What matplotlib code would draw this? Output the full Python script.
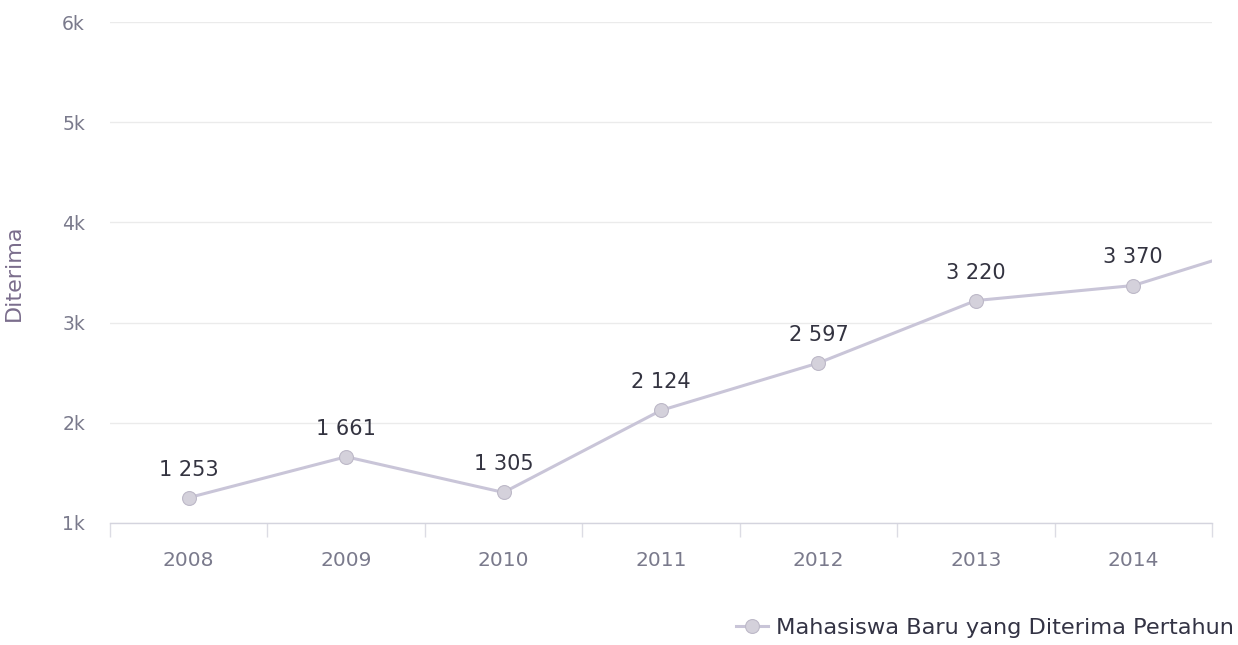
import matplotlib
matplotlib.use("Agg")
import matplotlib.pyplot as plt
from matplotlib.ticker import FixedLocator, FuncFormatter

# data (the last point lies past the right edge, only its line shows)
years = ["2008", "2009", "2010", "2011", "2012", "2013", "2014", "2015"]
diterima = [1253, 1661, 1305, 2124, 2597, 3220, 3370, 3860]
n_visible = 7
series_name = "Mahasiswa Baru yang Diterima Pertahun"

W, H = 1238, 645
fig = plt.figure(figsize=(W / 100, H / 100), dpi=100)
ax = fig.add_axes([110 / W, (H - 523) / H, (1212 - 110) / W, (523 - 22) / H])

line_color = "#c9c5d8"
marker_color = "#d4d1db"
label_gray = "#7a7a8c"

x = list(range(len(years)))
ax.plot(x, diterima, color=line_color, linewidth=2.2, marker="o", markersize=10,
        markerfacecolor=marker_color, markeredgecolor="#bdb9c8", markeredgewidth=0.8,
        zorder=3, label=series_name)

for i in range(n_visible):
    txt = f"{diterima[i]:,}".replace(",", " ")
    ax.annotate(txt, (x[i], diterima[i]), xytext=(0, 13), textcoords="offset points",
                ha="center", va="bottom", fontsize=15, color="#333340")

ax.set_xlim(-0.5, n_visible - 0.5)
ax.set_ylim(1000, 6000)

# y axis
ax.yaxis.set_major_locator(FixedLocator([1000, 2000, 3000, 4000, 5000, 6000]))
ax.yaxis.set_major_formatter(FuncFormatter(lambda v, p: f"{int(v / 1000)}k"))
ax.tick_params(axis="y", length=0, pad=18, labelsize=13.5, labelcolor=label_gray)
ax.grid(axis="y", color="#ebebeb", linewidth=1)
ax.set_axisbelow(True)
ax.set_ylabel("Diterima", fontsize=16, color="#7a6d8c")
ax.yaxis.set_label_coords(-0.078, 0.5)

# x axis: labels at category centers, ticks on boundaries
ax.set_xticks(range(n_visible))
ax.set_xticklabels(years[:n_visible])
ax.set_xticks([i - 0.5 for i in range(n_visible + 1)], minor=True)
ax.tick_params(axis="x", which="major", length=0, pad=20, labelsize=14.5, labelcolor=label_gray)
ax.tick_params(axis="x", which="minor", length=10, width=1, color="#dcdce4")

for s in ["top", "right", "left"]:
    ax.spines[s].set_visible(False)
ax.spines["bottom"].set_color("#d4d4de")
ax.spines["bottom"].set_linewidth(1)

leg = fig.legend(loc="center left", bbox_to_anchor=(716 / W, 1 - 628 / H),
                 frameon=False, fontsize=16.2, handlelength=1.4, handletextpad=0.35,
                 labelcolor="#333344")

fig.savefig("out.png", dpi=100)
